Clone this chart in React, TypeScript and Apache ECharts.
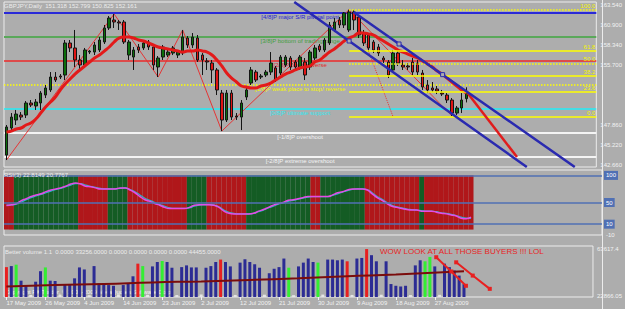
import React, { useEffect, useRef } from "react";
import * as echarts from "echarts";

// ---------- data ----------
const headerText = "GBPJPY,Daily  151.318 152.799 150.825 152.161";
const rsiHeader = "RSI(3) 22.8149 20.7767";
const volHeader = "Better volume 1.1  0.0000 33256.0000 0.0000 0.0000 0.0000 0.0000 44455.0000";
const noteText = "WOW LOOK AT ALL THOSE BUYERS !!! LOL";
const copyrightText = "Copyright FX Trader, \u00a9 2001-2009 MetaQuotes Software Corp.";

const dateTicks = [
  "17 May 2009", "26 May 2009", "4 Jun 2009", "14 Jun 2009", "23 Jun 2009", "2 Jul 2009",
  "12 Jul 2009", "21 Jul 2009", "30 Jul 2009", "9 Aug 2009", "18 Aug 2009", "27 Aug 2009",
];
const dateStep = 8;
const slotCount = 121;

// [open, close, low, high]
const candles = [
  [143.96, 147.62, 143.31, 147.88], [147.49, 148.92, 147.22, 149.44], [148.53, 149.31, 147.88, 149.84],
  [149.18, 148.92, 148.53, 149.57], [149.18, 150.75, 148.79, 151.01], [150.75, 150.49, 150.23, 151.14],
  [150.36, 150.88, 149.84, 151.27], [150.75, 152.05, 149.84, 152.31], [151.79, 152.71, 151.4, 153.1],
  [152.45, 154.14, 152.19, 154.79], [154.14, 153.75, 153.49, 154.79], [154.27, 154.14, 153.88, 154.53],
  [154.4, 158.58, 153.75, 158.97], [158.58, 157.93, 157.4, 158.97], [157.93, 156.36, 155.45, 160.28],
  [156.36, 155.71, 155.06, 157.01], [155.71, 157.67, 155.45, 157.93], [157.4, 157.53, 157.14, 157.67],
  [157.4, 158.32, 157.01, 158.71], [157.67, 158.97, 157.4, 159.36], [158.71, 160.54, 158.45, 160.93],
  [160.54, 161.84, 160.28, 162.1], [161.58, 161.32, 160.54, 162.36], [161.32, 161.19, 160.28, 161.58],
  [161.32, 158.71, 158.45, 161.58], [157.01, 158.71, 156.36, 158.97], [156.75, 157.67, 155.06, 158.06],
  [158.06, 157.67, 157.27, 158.45], [157.93, 158.58, 157.67, 158.97], [158.71, 158.06, 157.67, 158.97],
  [158.06, 155.71, 155.06, 158.32], [155.45, 156.62, 154.14, 156.88], [156.75, 158.06, 156.36, 158.32],
  [157.01, 157.4, 156.75, 157.67], [157.27, 157.93, 157.01, 158.19], [157.01, 157.4, 156.62, 157.67],
  [157.27, 159.36, 157.01, 160.28], [159.23, 158.32, 157.93, 159.49], [158.32, 159.36, 157.93, 159.88],
  [159.23, 156.36, 156.1, 159.62], [157.01, 156.36, 154.4, 157.27], [156.23, 156.1, 155.06, 156.62],
  [155.97, 155.06, 153.36, 156.36], [155.06, 152.45, 151.79, 155.32], [152.05, 148.53, 147.09, 152.45],
  [148.53, 152.05, 148.27, 152.45], [152.05, 148.92, 148.53, 152.45], [149.05, 148.92, 148.53, 149.44],
  [148.92, 150.75, 147.22, 151.14], [151.53, 152.45, 151.14, 152.84], [153.36, 155.06, 153.1, 155.45],
  [154.79, 153.75, 153.49, 155.06], [154.14, 154.27, 153.88, 154.53], [154.4, 154.79, 154.14, 155.06],
  [154.79, 155.97, 154.4, 157.4], [155.32, 153.75, 153.49, 155.58], [154.66, 156.75, 154.4, 157.01],
  [155.71, 156.75, 155.45, 157.01], [156.62, 155.45, 155.06, 156.88], [156.1, 155.45, 155.19, 156.36],
  [155.32, 156.75, 155.06, 157.01], [156.1, 154.4, 153.75, 156.62], [155.45, 157.4, 155.06, 157.67],
  [156.62, 157.93, 156.36, 158.32], [158.19, 157.67, 157.4, 158.45], [157.67, 158.97, 157.4, 159.23],
  [158.58, 160.93, 158.32, 161.32], [160.28, 161.32, 160.01, 161.84], [161.58, 160.93, 160.54, 161.97],
  [160.93, 162.49, 160.54, 162.62], [160.28, 162.62, 160.01, 162.92], [162.62, 161.58, 160.28, 162.89],
  [161.97, 159.62, 159.23, 162.23], [159.88, 158.58, 158.19, 160.28], [159.62, 157.93, 157.4, 159.88],
  [158.71, 157.67, 157.27, 158.97], [158.06, 157.27, 156.88, 158.45], [156.62, 156.36, 155.97, 156.88],
  [156.1, 154.4, 154.01, 156.36], [155.06, 157.27, 154.79, 157.67], [157.27, 155.97, 155.58, 157.67],
  [155.71, 155.45, 155.06, 156.36], [155.58, 155.45, 155.06, 155.97], [156.1, 154.79, 154.4, 156.62],
  [155.97, 154.79, 154.4, 156.36], [154.66, 152.84, 152.45, 155.06], [153.1, 152.45, 152.05, 153.75],
  [152.71, 152.45, 152.19, 153.49], [152.58, 152.31, 151.92, 152.97], [152.05, 151.92, 151.66, 152.45],
  [151.79, 151.14, 150.75, 152.05], [151.14, 149.44, 149.05, 151.4], [149.44, 150.1, 149.18, 150.36],
  [150.1, 151.14, 149.44, 152.05], [151.318, 152.161, 150.825, 152.799],
];

const maValues = [
  146.96, 147.09, 147.36, 147.49, 147.88, 148.14, 148.66, 149.44, 150.23, 150.88,
  151.53, 152.45, 153.23, 153.88, 154.53, 155.06, 155.58, 156.1, 156.62, 157.01,
  157.53, 158.06, 158.71, 159.23, 159.36, 159.36, 159.23, 158.97, 158.84, 158.58,
  158.32, 158.06, 157.93, 157.8, 157.67, 157.53, 157.4, 157.53, 157.53, 157.67,
  157.53, 157.4, 157.01, 156.36, 155.58, 154.66, 154.01, 153.49, 152.97, 152.84,
  152.71, 152.71, 152.97, 153.1, 153.36, 153.75, 154.14, 154.53, 154.79, 155.06,
  155.32, 155.45, 155.58, 156.1, 156.36, 156.88, 157.4, 157.8, 158.32, 158.84,
  159.23, 159.49, 159.88, 159.88, 159.75, 159.62, 159.23, 158.84, 158.45, 158.06,
  157.67, 157.4, 157.14, 156.88, 156.62, 156.23, 155.84, 155.45, 154.92, 154.53,
  154.01, 153.49, 152.97, 152.45, 152.05,
];

const zigzag = [[0, 143.31], [22, 162.36], [31, 154.14], [36, 160.28], [44, 147.09], [70, 162.92], [91, 149.05]];
const dottedLeg = [[71, 162.62], [79, 148.92]];
const projection = [[94.2, 152.05], [104.3, 143.7]];
const channelLower = [[58.8, 163.93], [70, 158.84], [106.3, 142.4]];
const channelUpper = [[70.9, 162.62], [80.2, 158.45], [89.1, 154.45], [116.1, 142.4]];

const murreyLevels = [162.5, 159.375, 156.25, 153.125, 150.0, 146.875, 143.75];
const murreyNames = [
  "[4/8]P major S/R pivotal point", "[3/8]P bottom of trading range", "[2/8]P pivot, reverse",
  "[1/8]P weak place to stop/ reverse", "[0/8]P ultimate support", "[-1/8]P overshoot", "[-2/8]P extreme overshoot",
];
const currentPrice = 152.161;
const priceTicks = [163.54, 160.9, 158.34, 155.7, 147.86, 145.22, 142.66];

const fibStartIndex = 70;
const fibHigh = 162.92;
const fibLow = 148.92;
const fibLevels = [100.0, 61.8, 50.0, 38.2, 23.6, 0.0];

const rsiValues = [
  44.6, 46, 48, 53.6, 57, 61, 64, 66, 70, 73,
  75, 77, 80, 84, 86, 84, 80, 79, 77, 75,
  75, 75, 75, 77, 77, 73, 68, 61, 55, 52,
  48, 45, 41, 39, 39, 39, 39, 41, 45, 46,
  46, 46, 45, 41, 34, 30, 29, 29, 29, 29,
  30, 34, 37, 41, 45, 48, 50, 54, 55, 57,
  59, 61, 61, 61, 61, 61, 64, 68, 70, 73,
  75, 75, 75, 73, 66, 59, 54, 48, 43, 41,
  39, 37, 36, 36, 34, 34, 34, 32, 30, 29,
  27, 25, 21, 20, 22.81,
];
const rsiSignal = [
  45, 45.5, 47, 51, 55, 59, 62, 65, 68, 71,
  74, 76, 79, 82, 85, 85, 82, 80, 78, 76,
  75, 75, 75, 76, 77, 74, 70, 64, 58, 54,
  50, 46, 43, 40, 39, 39, 39, 40, 43, 45,
  46, 46, 45, 42, 36, 32, 30, 29, 29, 29,
  30, 33, 36, 40, 43, 47, 49, 52, 54, 56,
  58, 60, 61, 61, 61, 61, 63, 66, 69, 72,
  74, 75, 75, 74, 68, 61, 56, 50, 45, 42,
  40, 38, 37, 36, 35, 34, 34, 33, 31, 30,
  28, 26, 23, 21, 20.78,
];
const rsiBandRuns: [string, number][] = [
  ["r", 2], ["g", 13], ["r", 6], ["g", 4], ["r", 12], ["g", 4], ["r", 8],
  ["g", 13], ["r", 2], ["g", 9], ["r", 11], ["g", 1], ["r", 10],
];
const rsiLevels = [100, 50, 10];

const volumes = [
  48080, 48970, 50210, 36240, 32410, 23780, 35350, 44520, 47810, 36240,
  35970, 24100, 32680, 33300, 38290, 47810, 46030, 23600, 48970, 33840,
  33840, 32410, 31790, 24300, 32410, 33840, 40070, 51100, 48970, 23900,
  48700, 52530, 53420, 52530, 47540, 23700, 48080, 49590, 47810, 47810,
  24200, 47540, 48970, 52530, 54660, 52530, 48700, 23800, 51990, 54930,
  52530, 50480, 47540, 24000, 42740, 46650, 48080, 55550, 47540, 23600,
  48700, 51990, 55550, 52530, 51990, 24100, 54660, 54660, 54040, 54660,
  53150, 23800, 55550, 56090, 63830, 58490, 53150, 24000, 53150, 33300,
  31790, 31170, 31790, 23700, 49590, 54040, 53150, 56980, 48700, 23900,
  51100, 48080, 45140, 40690, 33256,
];
const volumeKinds =
  "rbgbbsbbgb" + "bsbbbbbsbb" + "bbbsbbbrgs" + "bbgbbsbbbb" + "sbbbrbbsbb" +
  "bbbsbbbbgs" + "bbbbgsbbbb" + "rsbbrbbsbb" + "bbbsbbggbs" + "bbbbb";
const volumeMA = [[0, 31170], [10, 32410], [20, 33300], [30, 34730], [40, 35620], [50, 36860], [60, 38290], [70, 40070], [80, 41580], [94, 44455]];
const volTrendA = [[88.3, 56710], [91.4, 44250], [94.4, 31790]];
const volTrendB = [[92.4, 52260], [95.8, 40690], [99.3, 29120]];
const volMin = 22000;
const volMax = 66500;
const volTicks = [63617.4, 22866.05];

// ---------- styles ----------
const FONT = "Liberation Sans, Arial, sans-serif";
const BG = "#adadad";
const murreyStyle = [
  { line: { color: "#2a2ad8", width: 2, type: "solid" }, text: "#2424d0", box: "#2323c0", boxText: "#ffffff" },
  { line: { color: "#5aa85a", width: 2, type: "solid" }, text: "#3e9e3e", box: "#0b650b", boxText: "#ffffff" },
  { line: { color: "#ee2a2a", width: 1.5, type: "solid" }, text: "#e02828", box: "#e02020", boxText: "#ffffff" },
  { line: { color: "#ffff00", width: 1.5, type: "dotted" }, text: "#f4f400", box: "#ffff00", boxText: "#f0f0f0" },
  { line: { color: "#22eef8", width: 1.5, type: "solid" }, text: "#33e6f0", box: "#33e6f0", boxText: "#ffffff" },
  { line: { color: "#f4f4f4", width: 2, type: "solid" }, text: "#f4f4f4", box: "#f8f8f8", boxText: "#909090" },
  { line: { color: "#f4f4f4", width: 2, type: "solid" }, text: "#f4f4f4", box: "#f8f8f8", boxText: "#909090" },
];

function buildOption() {
  const slots = Array.from({ length: slotCount }, (_, i) => String(i));
  const rsiBands: any[] = [];
  rsiBandRuns.forEach(([k, n]) => {
    for (let j = 0; j < n; j++) rsiBands.push({ value: 100, itemStyle: { color: k === "g" ? "#145c24" : "#b0171a" } });
  });
  const volColors: Record<string, string> = { b: "#2c2c94", r: "#e82020", g: "#33ee33", s: "#e6e6e6" };
  const volData = volumes.map((v, i) => ({ value: v, itemStyle: { color: volColors[volumeKinds[i]] } }));

  const hideAxis = { axisLine: { show: false }, axisTick: { show: false }, axisLabel: { show: false }, splitLine: { show: false } };
  const gridBase = { left: 4, width: 598, show: true, borderColor: "#ececec", borderWidth: 1, backgroundColor: "transparent" };
  const labelInterval = (idx: number) => idx % dateStep === 0 && idx / dateStep < dateTicks.length;

  const boxLabel = (val: number, bg: string, fg: string) => ({
    yAxis: val,
    lineStyle: { opacity: 0, width: 0 },
    label: {
      show: true, position: "end", distance: 2, formatter: val.toFixed(3), backgroundColor: bg, color: fg,
      fontSize: 6, fontFamily: FONT, padding: [1, 2, 1, 2], lineHeight: 7,
    },
  });

  const fibLine = (lvl: number) => {
    const p = fibLow + ((fibHigh - fibLow) * lvl) / 100;
    const dotted = lvl === 100 || lvl === 50;
    return [
      { coord: [fibStartIndex, p], lineStyle: { color: "#ffff00", width: 1.5, type: dotted ? "dotted" : "solid" },
        label: { show: true, position: "insideEndTop", formatter: lvl.toFixed(1), color: "#f4f400", fontSize: 6, fontFamily: FONT, distance: 1 } },
      { coord: [slotCount - 0.5, p] },
    ];
  };

  return {
    animation: false,
    backgroundColor: BG,
    textStyle: { fontFamily: FONT },
    grid: [
      { ...gridBase, top: 2, height: 165 },
      { ...gridBase, top: 170, height: 65 },
      { ...gridBase, top: 246, height: 51 },
    ],
    xAxis: [
      { type: "category", gridIndex: 0, data: slots, boundaryGap: true, ...hideAxis },
      { type: "value", gridIndex: 0, min: -0.5, max: slotCount - 0.5, show: false },
      { type: "category", gridIndex: 1, data: slots, boundaryGap: true, ...hideAxis },
      { type: "value", gridIndex: 1, min: -0.5, max: slotCount - 0.5, show: false },
      {
        type: "category", gridIndex: 2, data: slots, boundaryGap: true,
        axisLine: { show: false }, splitLine: { show: false },
        axisTick: { show: true, interval: labelInterval, alignWithLabel: true, length: 3, lineStyle: { color: "#f0f0f0" } },
        axisLabel: {
          show: true, interval: labelInterval, align: "left", margin: 3, color: "#f2f2f2", fontSize: 6, fontFamily: FONT,
          formatter: (_v: string, idx: number) => dateTicks[idx / dateStep] ?? "",
        },
      },
      { type: "value", gridIndex: 2, min: -0.5, max: slotCount - 0.5, show: false },
    ],
    yAxis: [
      {
        type: "value", gridIndex: 0, position: "right", min: 142.4, max: 163.93,
        splitLine: { show: false }, axisLine: { show: false }, axisTick: { show: false },
        axisLabel: { customValues: priceTicks, formatter: (v: number) => v.toFixed(3), color: "#f2f2f2", fontSize: 6, margin: 4, fontFamily: FONT },
      },
      {
        type: "value", gridIndex: 1, position: "right", min: -10, max: 110,
        splitLine: { show: false }, axisLine: { show: false }, axisTick: { show: false },
        axisLabel: { customValues: [-10], color: "#f2f2f2", fontSize: 6, margin: 4, fontFamily: FONT },
      },
      {
        type: "value", gridIndex: 2, position: "right", min: volMin, max: volMax,
        splitLine: { show: false }, axisLine: { show: false }, axisTick: { show: false },
        axisLabel: { customValues: volTicks, formatter: (v: number) => String(v), color: "#f2f2f2", fontSize: 6, margin: 4, fontFamily: FONT },
      },
    ],
    series: [
      // main panel
      {
        type: "candlestick", xAxisIndex: 0, yAxisIndex: 0, data: candles, barWidth: 3, z: 3,
        itemStyle: { color: "#0b6e0b", color0: "#e01414", borderColor: "#151515", borderColor0: "#151515", borderWidth: 1 },
        markLine: {
          silent: true, symbol: ["none", "none"], z: 2,
          data: murreyLevels.map((v, k) => ({
            yAxis: v, lineStyle: murreyStyle[k].line,
            label: { show: true, position: "insideMiddleBottom", formatter: murreyNames[k], color: murreyStyle[k].text, fontSize: 6, fontFamily: FONT, distance: 1 },
          })),
        },
      },
      {
        type: "line", xAxisIndex: 0, yAxisIndex: 0, data: maValues, smooth: true, symbol: "none", z: 4,
        lineStyle: { color: "#e31a1a", width: 3 },
        markLine: {
          silent: true, symbol: ["none", "none"],
          data: [
            ...murreyLevels.map((v, k) => boxLabel(v, murreyStyle[k].box, murreyStyle[k].boxText)),
            boxLabel(currentPrice, "#f8f8f8", "#909090"),
          ],
        },
      },
      {
        type: "line", xAxisIndex: 1, yAxisIndex: 0, data: zigzag, symbol: "none", z: 3,
        lineStyle: { color: "#e53535", width: 1 },
        markLine: { silent: true, symbol: ["none", "none"], lineStyle: { color: "#ffff00", width: 1.5 }, data: fibLevels.map(fibLine) },
      },
      { type: "line", xAxisIndex: 1, yAxisIndex: 0, data: dottedLeg, symbol: "none", z: 3, lineStyle: { color: "#e53535", width: 1, type: "dotted" } },
      { type: "line", xAxisIndex: 1, yAxisIndex: 0, data: projection, symbol: "none", z: 5, lineStyle: { color: "#e01c1c", width: 2.5 } },
      {
        type: "line", xAxisIndex: 1, yAxisIndex: 0, z: 5, symbol: "rect", symbolSize: 4, showAllSymbol: true,
        itemStyle: { color: BG, borderColor: "#2a2ab0", borderWidth: 1 },
        data: channelLower.map((p, i) => (i === 1 ? p : { value: p, symbolSize: 0 })),
        lineStyle: { color: "#2a2ab0", width: 2.5 },
      },
      {
        type: "line", xAxisIndex: 1, yAxisIndex: 0, z: 5, symbol: "rect", symbolSize: 4, showAllSymbol: true,
        itemStyle: { color: BG, borderColor: "#2a2ab0", borderWidth: 1 },
        data: channelUpper.map((p, i) => (i === 1 || i === 2 ? p : { value: p, symbolSize: 0 })),
        lineStyle: { color: "#2a2ab0", width: 2.5 },
      },
      // RSI panel
      {
        type: "bar", xAxisIndex: 2, yAxisIndex: 1, data: rsiBands, barCategoryGap: "0%", barWidth: "100%", z: 1,
        markLine: {
          silent: true, symbol: ["none", "none"],
          data: rsiLevels.map((v) => ({
            yAxis: v, lineStyle: { color: "#5070b4", width: 1.5, type: "solid" },
            label: { show: true, position: "end", distance: 2, formatter: String(v), color: "#ffffff", backgroundColor: "#5070b4", fontSize: 6, padding: [1, 2, 1, 2], lineHeight: 7 },
          })),
        },
      },
      { type: "line", xAxisIndex: 2, yAxisIndex: 1, data: rsiSignal, smooth: true, symbol: "none", z: 3, lineStyle: { color: "#2ab4c8", width: 1.2 } },
      { type: "line", xAxisIndex: 2, yAxisIndex: 1, data: rsiValues, smooth: true, symbol: "none", z: 4, lineStyle: { color: "#e64be6", width: 1.5 } },
      // volume panel
      { type: "bar", xAxisIndex: 4, yAxisIndex: 2, data: volData, barWidth: 3, z: 2 },
      { type: "line", xAxisIndex: 5, yAxisIndex: 2, data: volumeMA, smooth: true, symbol: "none", z: 3, lineStyle: { color: "#7a0c0c", width: 2 } },
      {
        type: "line", xAxisIndex: 5, yAxisIndex: 2, data: volTrendA, z: 4, symbol: "rect", symbolSize: 4,
        itemStyle: { color: "#e82020" }, lineStyle: { color: "#e82020", width: 2 },
      },
      {
        type: "line", xAxisIndex: 5, yAxisIndex: 2, data: volTrendB, z: 4, symbol: "rect", symbolSize: 4,
        itemStyle: { color: "#e82020" }, lineStyle: { color: "#e82020", width: 2 },
      },
    ],
    graphic: [
      { type: "line", z: 50, shape: { x1: 602.5, y1: 0, x2: 602.5, y2: 309 }, style: { stroke: "#ececec", lineWidth: 1 } },
      { type: "text", z: 60, x: 4, y: 3, style: { text: headerText, fill: "#ececec", font: `6px ${FONT}` } },
      { type: "text", z: 60, x: 4, y: 172, style: { text: rsiHeader, fill: "#ececec", font: `6px ${FONT}` } },
      { type: "text", z: 60, x: 5, y: 249, style: { text: volHeader, fill: "#ececec", font: `6px ${FONT}` } },
      { type: "text", z: 60, x: 380, y: 247, style: { text: noteText, fill: "#e82424", font: `8px ${FONT}` } },
      { type: "text", z: 0, zlevel: 0, x: 5, y: 289, style: { text: copyrightText, fill: "#f4f4f4", font: `6px ${FONT}` } },
    ],
  };
}

export default function App() {
  const ref = useRef<HTMLDivElement>(null);
  useEffect(() => {
    if (!ref.current) return;
    const chart = echarts.init(ref.current, null, { renderer: "svg" });
    chart.setOption(buildOption() as any);
    return () => chart.dispose();
  }, []);
  return <div ref={ref} style={{ position: "fixed", left: 0, top: 0, width: 625, height: 309 }} />;
}
